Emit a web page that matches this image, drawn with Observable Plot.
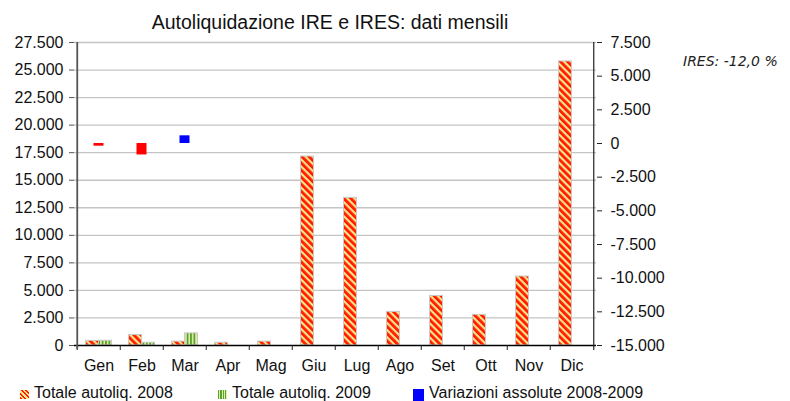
<!DOCTYPE html>
<html>
<head>
<meta charset="utf-8">
<script src="https://cdn.jsdelivr.net/npm/d3@7"></script>
<script src="https://cdn.jsdelivr.net/npm/@observablehq/plot@0.6"></script>
<style>
  body { margin: 0; background: #fff; font-family: "Liberation Sans", Arial, sans-serif; }
  #wrap { position: relative; width: 790px; height: 401px; }
  #title { position: absolute; left: 0; top: 11px; width: 660px; text-align: center; font-size: 19.5px; color: #111; }
  #note { position: absolute; left: 683px; top: 53px; font-family: "DejaVu Sans", sans-serif; font-style: italic; font-size: 14px; color: #222; }
  #chart { position: absolute; left: 0; top: 34px; }
  #legend { position: absolute; left: 0; top: 384px; width: 790px; height: 17px; font-size: 16px; color: #111; }
  .li { position: absolute; top: 0; display: flex; align-items: center; white-space: nowrap; }
  .sw { display: inline-block; margin-right: 5px; }
</style>
</head>
<body>
<div id="wrap">
  <div id="title">Autoliquidazione IRE e IRES: dati mensili</div>
  <div id="chart"></div>
  <div id="note">IRES: -12,0 %</div>
  <div id="legend"></div>
</div>
<script>
const months = ["Gen","Feb","Mar","Apr","Mag","Giu","Lug","Ago","Set","Ott","Nov","Dic"];
const tot2008 = [420, 950, 350, 250, 350, 17150, 13400, 3050, 4500, 2780, 6260, 25780];
const tot2009 = [430, 250, 1100, 0, 0, null, null, null, null, null, null, null];
const variazioni = [-200, -850, 570, null, null, null, null, null, null, null, null, null];
const leftTicks = [0, 2500, 5000, 7500, 10000, 12500, 15000, 17500, 20000, 22500, 25000, 27500];
const rightTicks = [-15000, -12500, -10000, -7500, -5000, -2500, 0, 2500, 5000, 7500];
const seriesNames = ["Totale autoliq. 2008", "Totale autoliq. 2009", "Variazioni assolute 2008-2009"];

const locale = d3.formatLocale({decimal: ",", thousands: ".", grouping: [3], currency: ["", "€"], minus: "-"});
const fmt = locale.format(",");

// right axis domain mapped onto left axis domain
const leftDomain = [0, 27500];
const rightDomain = [-15000, 7500];
const toLeft = d3.scaleLinear().domain(rightDomain).range(leftDomain);

const data2008 = months.map((m, i) => ({month: m, value: tot2008[i]}));
const data2009 = months.map((m, i) => ({month: m, value: tot2009[i]})).filter(d => d.value != null);
const dataVar = months.map((m, i) => ({month: m, value: variazioni[i]})).filter(d => d.value != null);

const half = 21.75;

const plot = Plot.plot({
  width: 790,
  height: 346,
  marginTop: 8,
  marginBottom: 35,
  marginLeft: 74,
  marginRight: 194,
  style: {fontFamily: "Liberation Sans, Arial, sans-serif", fontSize: "16px", color: "#111", background: "transparent"},
  x: {type: "band", domain: months, paddingInner: 0.7, paddingOuter: 0.35, label: null},
  y: {domain: leftDomain, label: null},
  marks: [
    Plot.ruleY(leftTicks.filter(d => d > 0), {stroke: "#c4c4c4", strokeWidth: 1.3}),
    Plot.barY(data2008, {x: "month", y: "value", dx: -6.5, fill: "url(#p2008)", stroke: "#c8c8c8", strokeWidth: 1}),
    Plot.barY(data2009, {x: "month", y: "value", dx: 6.5, fill: "url(#p2009)", stroke: "#c8c8c8", strokeWidth: 1}),
    Plot.barY(dataVar, {x: "month", y1: () => toLeft(0), y2: d => toLeft(d.value), insetLeft: 1.5, insetRight: 1.5,
      fill: d => d.value < 0 ? "#ff0000" : "#0000ff"}),
    Plot.ruleY([0], {stroke: "#000", strokeWidth: 1.3}),
    Plot.ruleX(months, {x: d => d, y1: 0, y2: 0, dx: -half, insetBottom: -5, stroke: "#222"}),
    Plot.ruleX(["Gen"], {x: d => d, dx: -half, insetBottom: -4, stroke: "#555", strokeWidth: 1.8}),
    Plot.ruleX(["Dic"], {x: d => d, dx: half, insetBottom: -5, stroke: "#222", strokeWidth: 1.2}),
    Plot.axisY(leftTicks, {anchor: "left", tickSize: 5, tickPadding: 6, stroke: "#555", tickFormat: d => fmt(d), fontSize: 16}),
    Plot.axisY(rightTicks.map(toLeft), {anchor: "right", tickSize: 5, tickPadding: 9, stroke: "#222", tickFormat: d => fmt(Math.round(toLeft.invert(d))), fontSize: 16}),
    Plot.axisX(months, {tickSize: 0, tickPadding: 14, fontSize: 16, label: null})
  ]
});

// stripe patterns used as bar fills
const svg = d3.select(plot);
const defs = svg.insert("defs", ":first-child");
const p1 = defs.append("pattern").attr("id", "p2008").attr("patternUnits", "userSpaceOnUse")
  .attr("width", 5).attr("height", 5).attr("patternTransform", "rotate(-45)");
p1.append("rect").attr("width", 5).attr("height", 5).attr("fill", "#ffe58a");
p1.append("rect").attr("width", 2.8).attr("height", 5).attr("fill", "#ff1a00");
const p2 = defs.append("pattern").attr("id", "p2009").attr("patternUnits", "userSpaceOnUse")
  .attr("width", 3.4).attr("height", 10);
p2.append("rect").attr("width", 3.4).attr("height", 10).attr("fill", "#dff0a8");
p2.append("rect").attr("width", 1.8).attr("height", 10).attr("fill", "#5aa032");

document.getElementById("chart").appendChild(plot);

// legend
const legendItems = [
  {name: seriesNames[0], left: 20, w: 9, h: 9, swatch: "repeating-linear-gradient(45deg, #ff1a00 0 1.6px, #ffe58a 1.6px 3.2px)"},
  {name: seriesNames[1], left: 218, w: 9, h: 9, swatch: "repeating-linear-gradient(90deg, #5aa032 0 1.2px, #dff0a8 1.2px 2.4px)"},
  {name: seriesNames[2], left: 413, w: 11, h: 13, swatch: "#0000ff"}
];
const leg = d3.select("#legend");
legendItems.forEach((it) => {
  const d = leg.append("div").attr("class", "li").style("left", it.left + "px");
  d.append("span").attr("class", "sw")
    .style("background", it.swatch)
    .style("width", it.w + "px").style("height", it.h + "px")
    .style("margin-top", it.h > 10 ? "4px" : "2px");
  d.append("span").text(it.name);
});
</script>
</body>
</html>
